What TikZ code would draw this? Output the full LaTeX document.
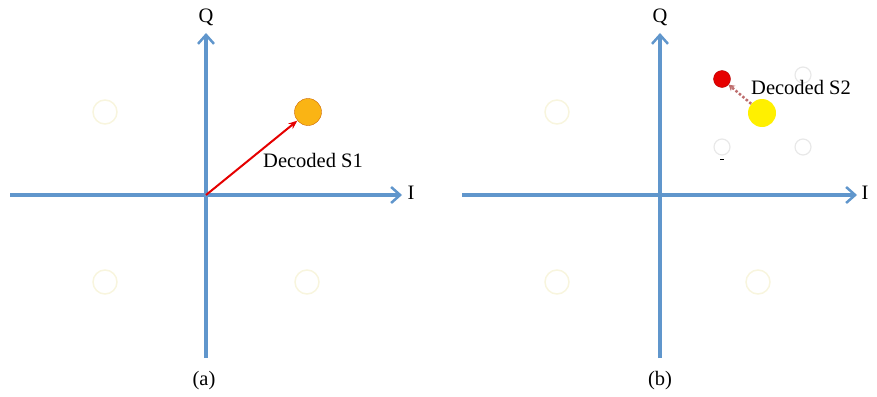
\documentclass[tikz,border=0pt]{standalone}
\usepackage{fontspec}
\setmainfont{Liberation Serif}
\usetikzlibrary{arrows.meta}
\definecolor{axisblue}{RGB}{96,150,204}
\definecolor{faint}{RGB}{248,245,222}
\definecolor{faintgrey}{RGB}{232,232,232}
\definecolor{dotorange}{RGB}{250,180,20}
\definecolor{dotyellow}{RGB}{255,240,0}
\definecolor{dotred}{RGB}{230,0,0}
\definecolor{dashbrown}{RGB}{190,110,110}

\begin{document}
\begin{tikzpicture}[x=1pt,y=-1pt,
    axis/.style = {draw=axisblue, line width=3.5pt, -{Straight Barb[length=9pt,width=16pt,line width=2.5pt]}},
    ghost/.style = {circle, draw=faint, line width=1.5pt, minimum size=24pt, inner sep=0pt},
    ghostgrey/.style = {circle, draw=faintgrey, line width=1.2pt, minimum size=16pt, inner sep=0pt},
    lbl/.style = {font=\fontsize{20.5}{22}\selectfont, inner sep=1pt}]
    \useasboundingbox (0,0) rectangle (877,396);
    % panel (a)
    \coordinate (aO) at (206,195);
    \coordinate (aL) at (10,195);
    \coordinate (aR) at (402,195);
    \coordinate (aB) at (206,358);
    \coordinate (aT) at (206,33);
    \draw[axis] (aL) -- (aR);
    \draw[axis] (aB) -- (aT);
    \node[lbl] (aQ) at (206,17) {Q};
    \node[lbl] (aI) at (411,193) {I};
    \node[ghost] (a1) at (105,112) {};
    \node[ghost] (a3) at (105,282) {};
    \node[ghost] (a4) at (307,282) {};
    \node[circle, fill=dotorange, draw=orange!80!black, minimum size=27pt, inner sep=0pt] (s1) at (308,112) {};
    \draw[red!90!black, line width=2pt, -{Stealth[length=9pt,width=7pt]}] (aO) -- (s1);
    \node[lbl, anchor=west] (dec1) at (262,160) {Decoded S1};
    \node[lbl] (capa) at (204,381) {(a)};
    % panel (b)
    \coordinate (bO) at (660,195);
    \coordinate (bL) at (462,195);
    \coordinate (bR) at (857,195);
    \coordinate (bB) at (660,358);
    \coordinate (bT) at (660,33);
    \draw[axis] (bL) -- (bR);
    \draw[axis] (bB) -- (bT);
    \node[lbl] (bQ) at (660,17) {Q};
    \node[lbl] (bI) at (865,193) {I};
    \node[ghost] (b1) at (557,112) {};
    \node[ghost] (b3) at (557,282) {};
    \node[ghost] (b4) at (758,282) {};
    \node[ghostgrey] (g1) at (803,75) {};
    \node[ghostgrey] (g2) at (722,147) {};
    \node[ghostgrey] (g3) at (803,147) {};
    \draw[black, line width=1.2pt] ([xshift=-2pt,yshift=-4pt]g2.south) -- ([xshift=2pt,yshift=-4pt]g2.south);
    \node[circle, fill=dotyellow, minimum size=28pt, inner sep=0pt] (s2) at (762,113) {};
    \node[circle, fill=dotred, draw=red!70!black, minimum size=17pt, inner sep=0pt] (r2) at (722,79) {};
    \draw[dashbrown, line width=2.5pt, dotted, -{Stealth[length=6pt,width=7pt]}] (s2) -- (r2);
    \node[lbl, anchor=west] (dec2) at (750,87) {Decoded S2};
    \node[lbl] (capb) at (660,381) {(b)};
\end{tikzpicture}
\end{document}
